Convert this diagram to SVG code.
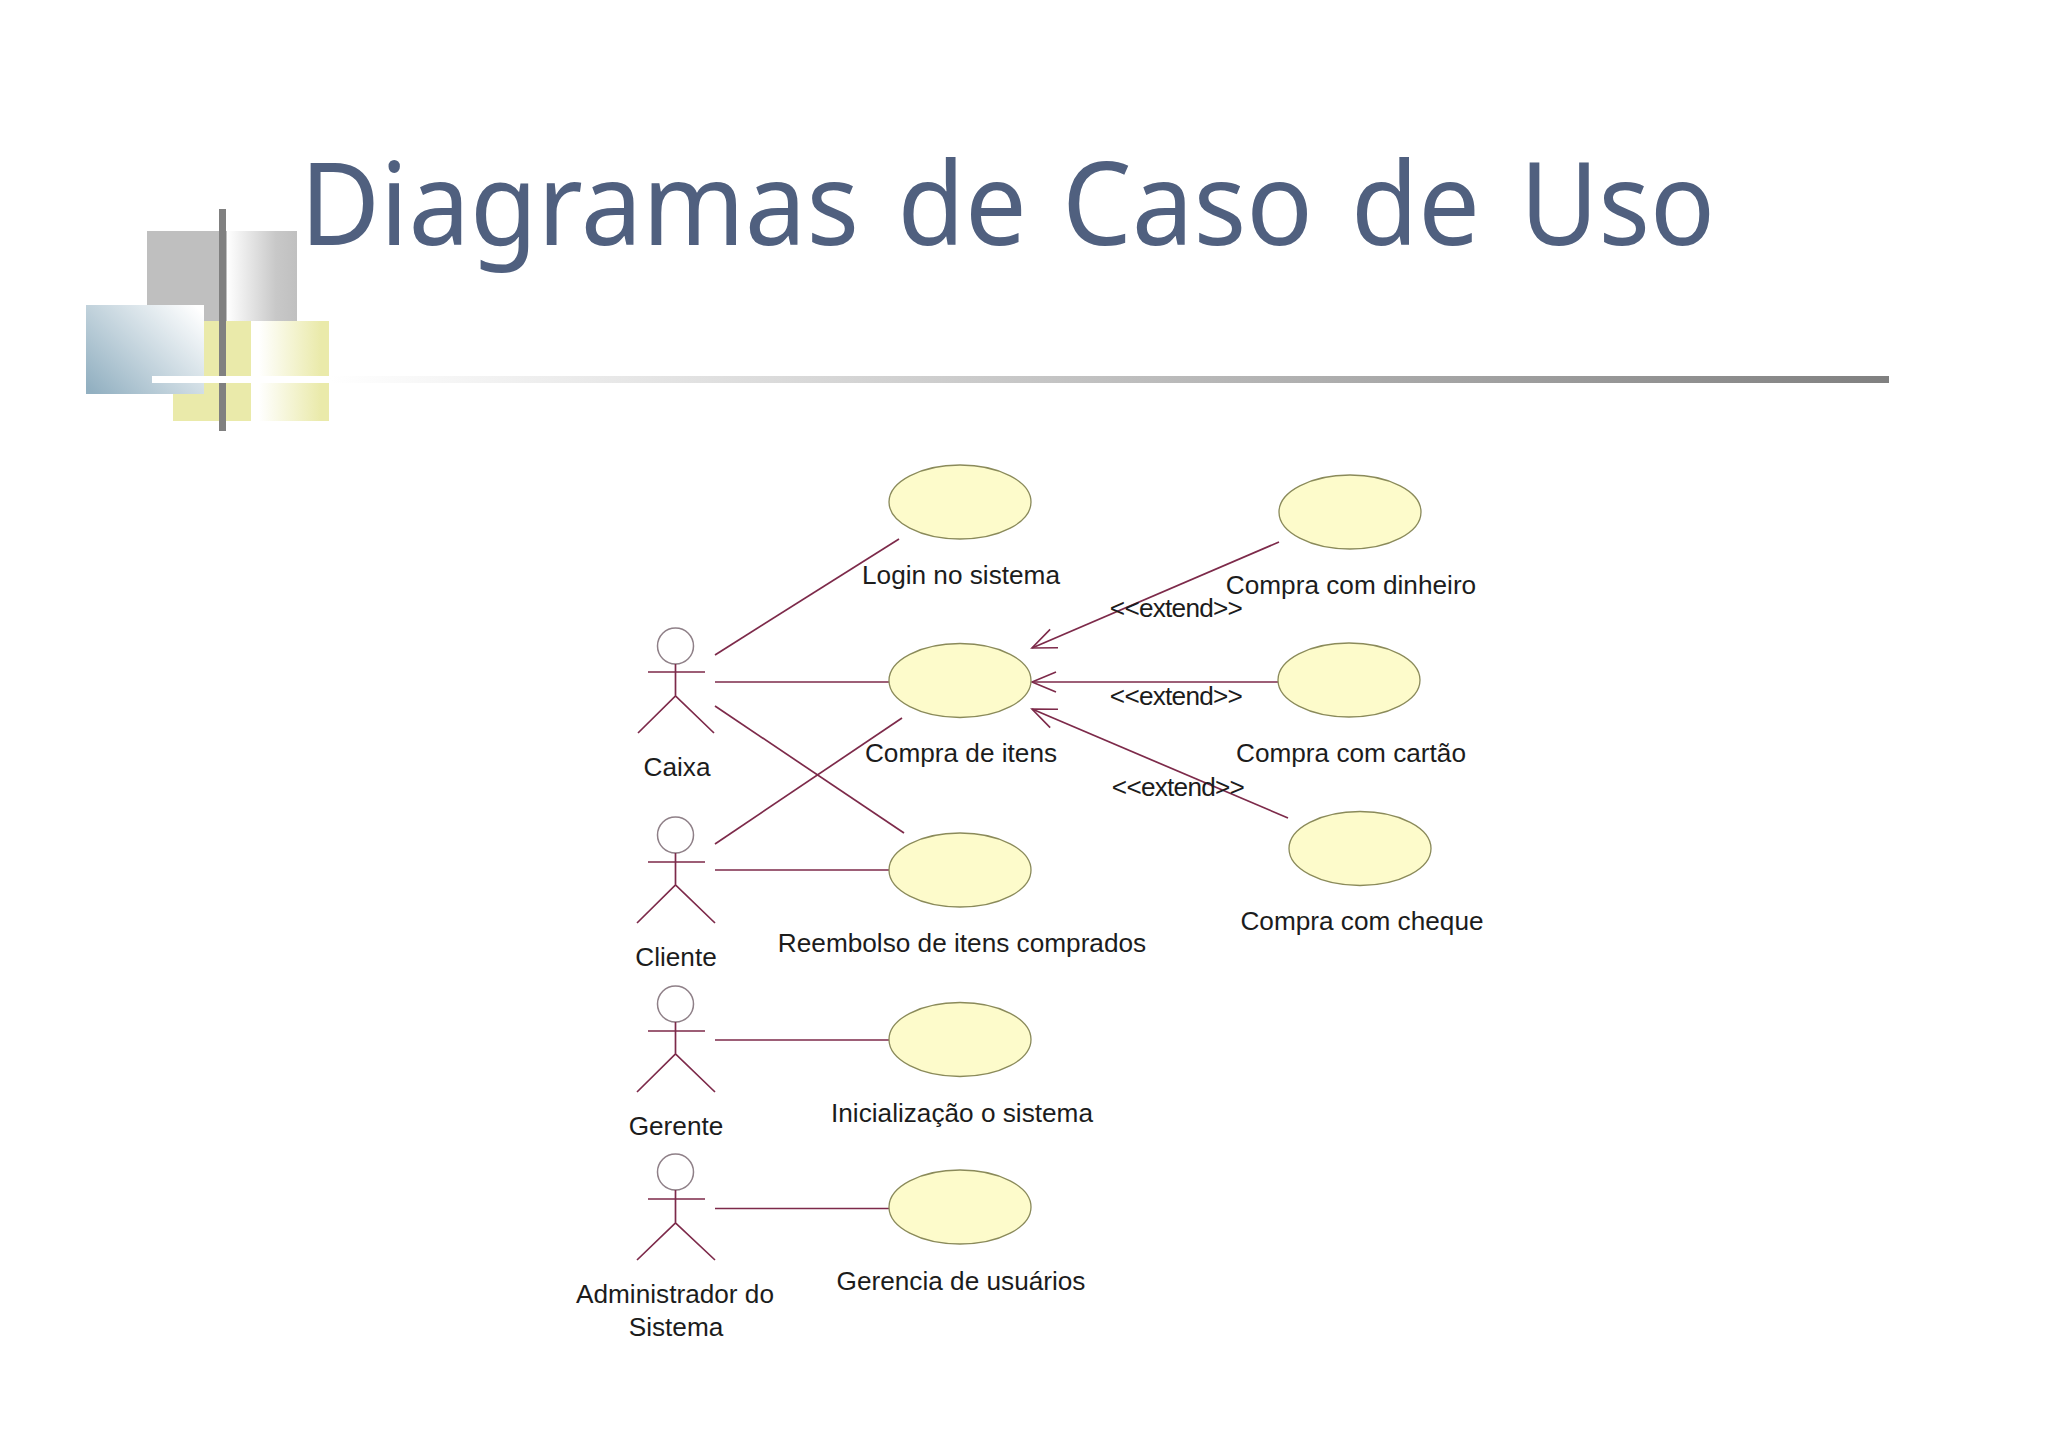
<svg xmlns="http://www.w3.org/2000/svg" width="2048" height="1447" viewBox="0 0 2048 1447">
<defs>
<linearGradient id="gGray" x1="0" y1="0" x2="1" y2="0"><stop offset="0" stop-color="#fff"/><stop offset="0.7" stop-color="#c8c8c8"/><stop offset="1" stop-color="#c0c0c0"/></linearGradient>
<linearGradient id="gYellow" x1="0" y1="0" x2="1" y2="0"><stop offset="0.1" stop-color="#fff"/><stop offset="0.9" stop-color="#eaeaaa"/></linearGradient>
<linearGradient id="gBlue" gradientUnits="userSpaceOnUse" x1="95" y1="395" x2="190" y2="300"><stop offset="0" stop-color="#92b0c1"/><stop offset="1" stop-color="#fff"/></linearGradient>
<linearGradient id="gLine" gradientUnits="userSpaceOnUse" x1="330" y1="0" x2="1889" y2="0"><stop offset="0" stop-color="#fff"/><stop offset="1" stop-color="#808080"/></linearGradient>
<marker id="open" markerUnits="userSpaceOnUse" markerWidth="30" markerHeight="44" refX="26" refY="22" orient="auto" overflow="visible"><path d="M2 12 L26 22 L2 32" fill="none" stroke="#7d2a4a" stroke-width="1.6"/></marker>
</defs>
<style>
text{font-family:"Liberation Sans",Arial,sans-serif;fill:#1c1c1c;font-size:26.2px;text-anchor:middle}
.title{font-family:"Noto Sans","Open Sans",sans-serif;fill:#50607f;font-size:116px;text-anchor:start}
.ext{letter-spacing:-0.75px}
.uc{fill:#fdfbcb;stroke:#8a8a5a;stroke-width:1.3}
.head{fill:#fff;stroke:#8f8088;stroke-width:1.5}
.a{fill:none;stroke:#7d2a4a;stroke-width:1.7}
.c{fill:none;stroke:#7d2a4a;stroke-width:1.7}
</style>
<rect width="2048" height="1447" fill="#fff"/>
<g id="decor">
<rect x="147" y="231" width="80" height="90" fill="#bfbfbf"/>
<rect x="227" y="231" width="70" height="90" fill="url(#gGray)"/>
<rect x="173" y="321" width="78" height="100" fill="#eaeaaa"/>
<rect x="251" y="321" width="78" height="100" fill="url(#gYellow)"/>
<rect x="86" y="305" width="118" height="89" fill="url(#gBlue)"/>
<rect x="219" y="209" width="7" height="222" fill="#808080"/>
<rect x="152" y="376" width="178" height="7" fill="#fff"/>
<rect x="330" y="376" width="1559" height="7" fill="url(#gLine)"/>
</g>
<text class="title" y="245"><tspan x="300" textLength="559" lengthAdjust="spacingAndGlyphs">Diagramas</tspan> <tspan x="897.600" textLength="129" lengthAdjust="spacingAndGlyphs">de</tspan> <tspan x="1062" textLength="251" lengthAdjust="spacingAndGlyphs">Caso</tspan> <tspan x="1351" textLength="129" lengthAdjust="spacingAndGlyphs">de</tspan> <tspan x="1520" textLength="195" lengthAdjust="spacingAndGlyphs">Uso</tspan></text>
<g transform="translate(0 1)">
<g id="connectors">
<path class="c" d="M715 654L899 538"/>
<path class="c" d="M715 681H889"/>
<path class="c" d="M715 705L904 832"/>
<path class="c" d="M715 843L902 717"/>
<path class="c" d="M715 869H889"/>
<path class="c" d="M715 1039H889"/>
<path class="c" d="M715 1207.500H889"/>
<path class="c" d="M1279 541L1032 647" marker-end="url(#open)"/>
<path class="c" d="M1278 681H1032" marker-end="url(#open)"/>
<path class="c" d="M1288 817L1032 708" marker-end="url(#open)"/>
</g>
<g id="uc-login"><ellipse class="uc" cx="960" cy="501" rx="71" ry="37"/><text x="961" y="583">Login no sistema</text></g>
<g id="uc-compra"><ellipse class="uc" cx="960" cy="679.500" rx="71" ry="37"/><text x="961" y="761">Compra de itens</text></g>
<g id="uc-reembolso"><ellipse class="uc" cx="960" cy="869" rx="71" ry="37"/><text x="962" y="951">Reembolso de itens comprados</text></g>
<g id="uc-inicializacao"><ellipse class="uc" cx="960" cy="1038.500" rx="71" ry="37"/><text x="962" y="1121">Inicialização o sistema</text></g>
<g id="uc-gerencia"><ellipse class="uc" cx="960" cy="1206" rx="71" ry="37"/><text x="961" y="1289">Gerencia de usuários</text></g>
<g id="uc-dinheiro"><ellipse class="uc" cx="1350" cy="511" rx="71" ry="37"/><text x="1351" y="593">Compra com dinheiro</text></g>
<g id="uc-cartao"><ellipse class="uc" cx="1349" cy="679" rx="71" ry="37"/><text x="1351" y="761">Compra com cartão</text></g>
<g id="uc-cheque"><ellipse class="uc" cx="1360" cy="847.500" rx="71" ry="37"/><text x="1362" y="929">Compra com cheque</text></g>
<g id="actor-caixa"><circle class="head" cx="675.500" cy="645" r="18"/><path class="a" d="M648 671H705M675.500 663V695M638 732L675.500 695L714 732"/><text x="677" y="775">Caixa</text></g>
<g id="actor-cliente"><circle class="head" cx="675.500" cy="834" r="18"/><path class="a" d="M648 861H705M675.500 852V884M637 922L675.500 884L715 922"/><text x="676" y="965">Cliente</text></g>
<g id="actor-gerente"><circle class="head" cx="675.500" cy="1003" r="18"/><path class="a" d="M648 1030H705M675.500 1021V1053M637 1091L675.500 1053L715 1091"/><text x="676" y="1134">Gerente</text></g>
<g id="actor-admin"><circle class="head" cx="675.500" cy="1171" r="18"/><path class="a" d="M648 1198H705M675.500 1189V1222M637 1259L675.500 1222L715 1259"/><text x="675" y="1302">Administrador do</text><text x="676" y="1335">Sistema</text></g>
<g id="labels">
<text class="ext" x="1176" y="616">&lt;&lt;extend&gt;&gt;</text>
<text class="ext" x="1176" y="704">&lt;&lt;extend&gt;&gt;</text>
<text class="ext" x="1178" y="795">&lt;&lt;extend&gt;&gt;</text>
</g>
</g>
</svg>
